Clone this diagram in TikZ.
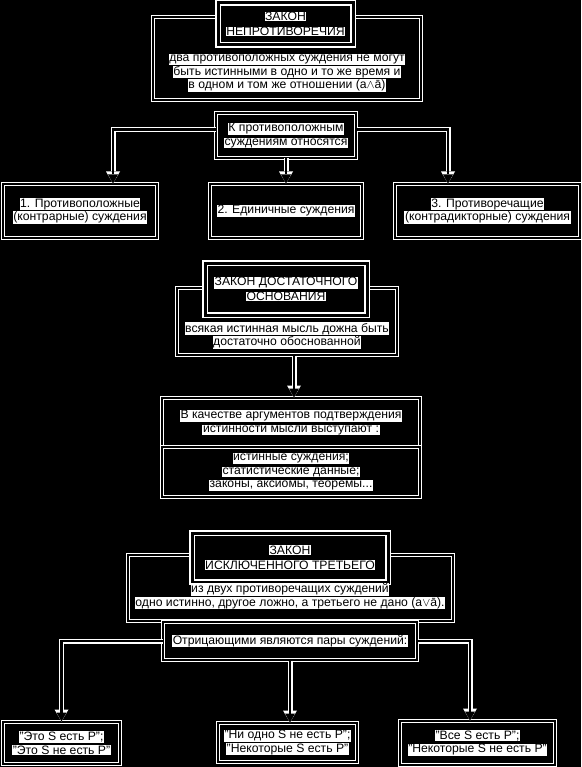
\documentclass[tikz,border=0pt]{standalone}
\usepackage{fontspec}
\setmainfont{Liberation Sans}
\usepackage{tikz}
\usetikzlibrary{arrows.meta, calc, positioning}
\newcommand\bodyfont{\fontsize{12.2}{13.6}\selectfont\lineskiplimit=-20pt\relax}
\newcommand\titlefont{\fontsize{12.2}{15}\selectfont\lineskiplimit=-20pt\relax}
\newcommand\wband[1]{{\setlength\fboxsep{0.6pt}\colorbox{white}{#1}}}
\tikzset{
  box/.style={
    rectangle, draw=white, double=black, line width=1pt,
    double distance=2.4pt, fill=black, inner sep=0pt, align=center, font=\bodyfont
  },
  lawtitle/.style={box, line width=1.3pt, double distance=3pt, font=\titlefont},
  boxsize/.style 2 args={minimum width=#1, minimum height=#2},
  txt/.style={inner sep=0pt, align=center, font=\bodyfont},
  conn/.style={
    draw=white, line width=5pt, -{Triangle[length=12pt,width=14pt,line width=0pt]},
    postaction={draw=black, line width=2.2pt, -{Triangle[length=9pt,width=10pt,line width=0pt]}}
  },
}
\begin{document}
\begin{tikzpicture}[x=1pt, y=-1pt]
  \useasboundingbox (0,0) rectangle (581,767);
  \fill[black] (0,0) rectangle (581,767);

  % law of non-contradiction
  \node[box, boxsize={268pt}{83pt}] (L1) at (287,58.5) {};
  \node[lawtitle, boxsize={135pt}{42pt}] (T1) at (285.5,24)
    {\wband{ЗАКОН}\\\wband{НЕПРОТИВОРЕЧИЯ}};
  \node[txt] (L1txt) at ($(L1.south)!0.5!(L1.south |- T1.south)$)
    {\wband{два противоположных суждения не могут}\\
     \wband{быть истинными в одно и то же время и}\\
     \wband{в одном и том же отношении (а$\wedge$ā)}};
  \node[box, boxsize={140pt}{45pt}] (K) at (286,135.5)
    {\wband{К противоположным}\\\wband{суждениям относятся}};
  \node[box, boxsize={154pt}{54pt}] (B1) at (80,211)
    {\wband{1. Противоположные}\\\wband{(контрарные) суждения}};
  \node[box, boxsize={152pt}{54pt}] (B2) at (286,211)
    {\wband{2. Единичные суждения}};
  \node[box, boxsize={185pt}{54pt}] (B3) at (487.5,211)
    {\wband{3. Противоречащие}\\\wband{(контрадикторные) суждения}};

  % law of sufficient reason
  \node[box, boxsize={220pt}{67pt}] (L2) at (287,321.5) {};
  \node[lawtitle, boxsize={162pt}{52pt}] (T2) at (286,289)
    {\wband{ЗАКОН ДОСТАТОЧНОГО}\\\wband{ОСНОВАНИЯ}};
  \node[txt] (L2txt) at ($(L2.south)!0.5!(L2.south |- T2.south)$)
    {\wband{всякая истинная мысль дожна быть}\\
     \wband{достаточно обоснованной}};
  \node[box, boxsize={258pt}{49pt}] (V1) at (291,422.5)
    {\wband{В качестве аргументов подтверждения}\\
     \wband{истинности мысли выступают :}};
  \node[box, boxsize={258pt}{50pt}] (V2) at (291,472)
    {\wband{истинные суждения;}\\\wband{статистические данные;}\\
     \wband{законы, аксиомы, теоремы...}};

  % law of excluded middle
  \node[box, boxsize={325pt}{66pt}] (L3) at (290.5,588) {};
  \node[lawtitle, boxsize={196pt}{49pt}] (T3) at (290,557.5)
    {\wband{ЗАКОН}\\\wband{ИСКЛЮЧЕННОГО ТРЕТЬЕГО}};
  \node[txt] (L3txt) at (290,596)
    {\wband{из двух противоречащих суждений}\\
     \wband{одно истинно, другое ложно, а третьего не дано (а$\vee$ā).}};
  \node[box, boxsize={254pt}{38pt}] (N) at (290,641)
    {\wband{Отрицающими являются пары суждений:}};
  \node[box, boxsize={117pt}{42pt}] (A) at (61.5,743)
    {\wband{"Это S есть Р";}\\\wband{"Это S не есть Р"}};
  \node[box, boxsize={139pt}{39pt}] (B) at (287.5,742.5)
    {\wband{"Ни одно S не есть Р";}\\\wband{"Некоторые S есть Р"}};
  \node[box, boxsize={155pt}{44pt}] (C) at (477.5,743)
    {\wband{"Все S есть Р";}\\\wband{"Некоторые S не есть Р"}};

  \draw[conn] ([yshift=6pt]K.west) -| ([xshift=33pt]B1.north);
  \draw[conn] ([yshift=6pt]K.east) -| ([xshift=-39.5pt]B3.north);
  \draw[conn] (K.south) -- (K.south |- B2.north);
  \draw[conn] ([xshift=7pt]L2.south) -- ([xshift=7pt]L2.south |- V1.north);
  \draw[conn] (N.west) -| (A.north);
  \draw[conn] (N.east) -| ([xshift=-7.5pt]C.north);
  \draw[conn] (N.south) -- (N.south |- B.north);
\end{tikzpicture}
\end{document}
